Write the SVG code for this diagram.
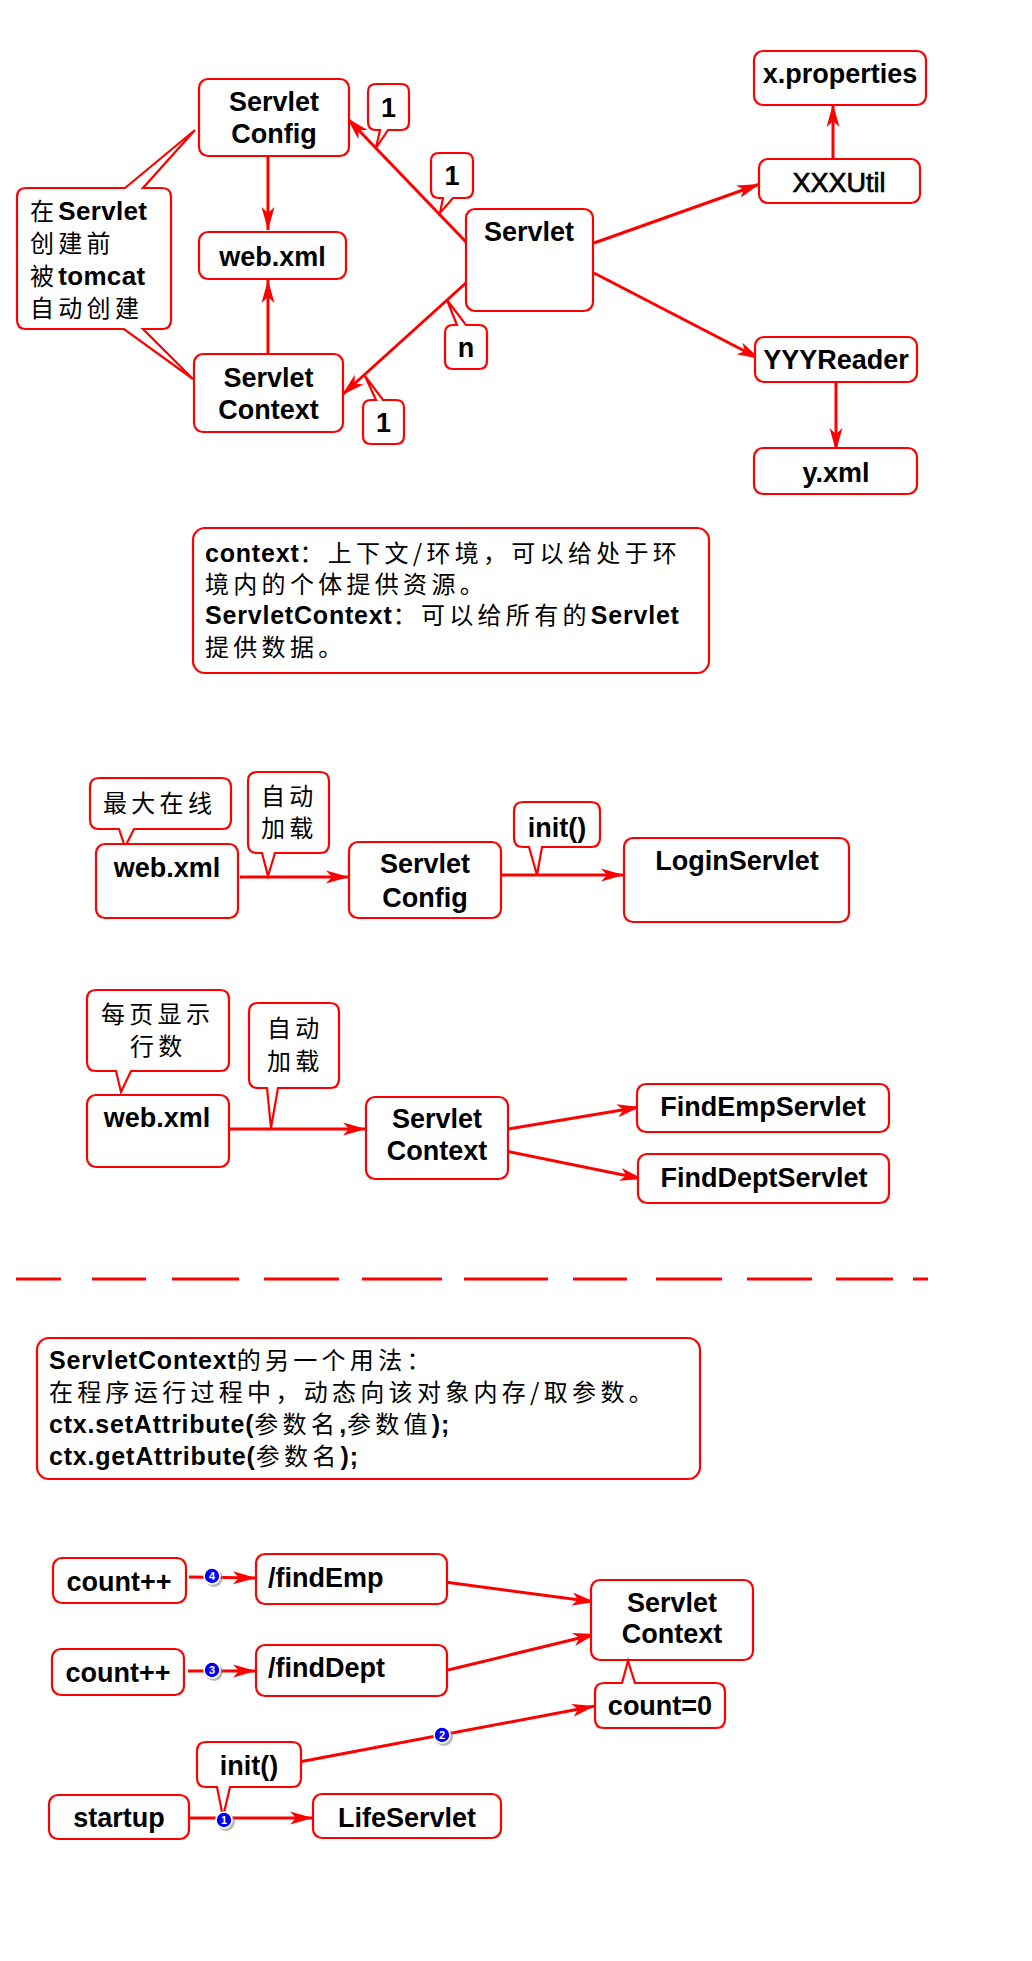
<svg xmlns="http://www.w3.org/2000/svg" width="1032" height="1961" viewBox="0 0 1032 1961">
<style>
.box{fill:#fff;stroke:#ff0000;stroke-width:2.2}
.con{fill:none;stroke:#ff0000;stroke-width:3}
.lbl{font-family:"Liberation Sans",Arial,"Noto Sans CJK SC",sans-serif;font-weight:bold;font-size:27px;fill:#000;text-anchor:middle}
.t{font-family:"Noto Sans CJK SC","Liberation Sans",sans-serif;font-size:24px;fill:#000;letter-spacing:4.3px}
.b{font-family:"Liberation Sans",Arial,sans-serif;font-weight:bold;font-size:25px;letter-spacing:0.8px}
.bl{font-family:"Liberation Sans",Arial,sans-serif;font-weight:bold;font-size:26px;letter-spacing:0.3px}
.mid{text-anchor:middle}
.badge{fill:#0000f0;stroke:#fff;stroke-width:1.6}
.shadow{fill:#888;opacity:0.6}
.bnum{font-family:"Liberation Sans",Arial,sans-serif;font-weight:bold;font-size:11px;fill:#fff;text-anchor:middle}
</style>
<defs>
<marker id="arr" markerUnits="userSpaceOnUse" orient="auto" refX="0" refY="0" markerWidth="30" markerHeight="20" overflow="visible">
<path d="M0,0 L-23,-6.5 L-17,0 L-23,6.5 Z" fill="#ff0000"/>
</marker>
</defs>
<rect width="1032" height="1961" fill="#fff"/>

<g id="connectors">
<path class="con" d="M268,154 L268,230" marker-end="url(#arr)"/>
<path class="con" d="M268,359 L268,280" marker-end="url(#arr)"/>
<path class="con" d="M467,243 L347,118" marker-end="url(#arr)"/>
<path class="con" d="M467,282 L342,395" marker-end="url(#arr)"/>
<path class="con" d="M594,243 L760,184" marker-end="url(#arr)"/>
<path class="con" d="M594,273 L760,359" marker-end="url(#arr)"/>
<path class="con" d="M833,159 L833,104" marker-end="url(#arr)"/>
<path class="con" d="M836,382 L836,451" marker-end="url(#arr)"/>
<path class="con" d="M240,877 L349,877" marker-end="url(#arr)"/>
<path class="con" d="M501,875 L624,875" marker-end="url(#arr)"/>
<path class="con" d="M226,1129 L366,1129" marker-end="url(#arr)"/>
<path class="con" d="M508,1129 L640,1107" marker-end="url(#arr)"/>
<path class="con" d="M506,1151 L643,1179" marker-end="url(#arr)"/>
<path class="con" d="M189,1577 L256,1578" marker-end="url(#arr)"/>
<path class="con" d="M188,1671 L256,1671" marker-end="url(#arr)"/>
<path class="con" d="M445,1582 L595,1602" marker-end="url(#arr)"/>
<path class="con" d="M448,1670 L596,1634" marker-end="url(#arr)"/>
<path class="con" d="M299,1762 L595,1706" marker-end="url(#arr)"/>
<path class="con" d="M189,1818 L313,1818" marker-end="url(#arr)"/>
</g>

<g id="divider">
<path d="M16,1279 H61 M92,1279 H146 M172,1279 H239 M264,1279 H339 M362,1279 H442 M464,1279 H548 M573,1279 H627 M656,1279 H722 M747,1279 H812 M836,1279 H893 M913,1279 H928" fill="none" stroke="#ff0000" stroke-width="3"/>
</g>

<!-- Section 1 -->
<g id="servletconfig1">
<rect class="box" x="199" y="79" width="150" height="77" rx="9"/>
<text class="lbl" x="274" y="111">Servlet</text>
<text class="lbl" x="274" y="143">Config</text>
</g>
<g id="webxml1">
<rect class="box" x="199" y="232" width="147" height="47" rx="9"/>
<text class="lbl" x="272.5" y="266">web.xml</text>
</g>
<g id="servletcontext1">
<rect class="box" x="194" y="354" width="149" height="78" rx="9"/>
<text class="lbl" x="268.5" y="387">Servlet</text>
<text class="lbl" x="268.5" y="419">Context</text>
</g>
<g id="servlet">
<rect class="box" x="466" y="209" width="127" height="102" rx="9"/>
<text class="lbl" x="529" y="241">Servlet</text>
</g>
<g id="xproperties">
<rect class="box" x="754" y="51" width="172" height="54" rx="9"/>
<text class="lbl" x="840" y="83">x.properties</text>
</g>
<g id="xxxutil">
<rect class="box" x="759" y="159" width="161" height="44" rx="9"/>
<text class="lbl" x="839" y="192" style="font-weight:normal;stroke:#000;stroke-width:0.7">XXXUtil</text>
</g>
<g id="yyyreader">
<rect class="box" x="755" y="337" width="162" height="45" rx="9"/>
<text class="lbl" x="836" y="369">YYYReader</text>
</g>
<g id="yxml">
<rect class="box" x="754" y="448" width="163" height="46" rx="9"/>
<text class="lbl" x="836" y="482">y.xml</text>
</g>
<g id="note-tomcat">
<path class="box" d="M26,188 H125 L195,130 L143,188 H162 Q171,188 171,197 V320 Q171,329 162,329 H143 L193,379 L124,329 H26 Q17,329 17,320 V197 Q17,188 26,188 Z"/>
<text class="t" x="30" y="220">在<tspan class="bl">Servlet</tspan></text>
<text class="t" x="30" y="252">创建前</text>
<text class="t" x="30" y="285">被<tspan class="bl">tomcat</tspan></text>
<text class="t" x="30" y="317">自动创建</text>
</g>
<g id="mult-config-1">
<path class="box" d="M376,84 H401 Q409,84 409,92 V122 Q409,130 401,130 H388 L376,148 L380,130 H376 Q368,130 368,122 V92 Q368,84 376,84 Z"/>
<text class="lbl" x="388.5" y="117">1</text>
</g>
<g id="mult-config-2">
<path class="box" d="M439,153 H465 Q473,153 473,161 V190 Q473,198 465,198 H453 L440,213 L443,198 H439 Q431,198 431,190 V161 Q431,153 439,153 Z"/>
<text class="lbl" x="452" y="185">1</text>
</g>
<g id="mult-context-n">
<path class="box" d="M453,325 H457 L447,300 L466,325 H479 Q487,325 487,333 V361 Q487,369 479,369 H453 Q445,369 445,361 V333 Q445,325 453,325 Z"/>
<text class="lbl" x="466" y="357">n</text>
</g>
<g id="mult-context-1">
<path class="box" d="M371,400 H376 L365,376 L383,400 H396 Q404,400 404,408 V436 Q404,444 396,444 H371 Q363,444 363,436 V408 Q363,400 371,400 Z"/>
<text class="lbl" x="383.5" y="432">1</text>
</g>
<g id="note-context">
<rect class="box" x="193" y="528" width="516" height="145" rx="12"/>
<text class="t" x="205" y="562"><tspan class="b">context</tspan>：上下文/环境，可以给处于环</text>
<text class="t" x="205" y="593">境内的个体提供资源。</text>
<text class="t" x="205" y="624"><tspan class="b">ServletContext</tspan>：可以给所有的<tspan class="b">Servlet</tspan></text>
<text class="t" x="205" y="656">提供数据。</text>
</g>

<!-- Section 2 -->
<g id="note-maxonline">
<path class="box" d="M99,778 H222 Q231,778 231,787 V820 Q231,829 222,829 H134 L125,847 L119,829 H99 Q90,829 90,820 V787 Q90,778 99,778 Z"/>
<text class="t" x="103" y="812">最大在线</text>
</g>
<g id="webxml2">
<rect class="box" x="96" y="844" width="142" height="74" rx="9"/>
<text class="lbl" x="167" y="877">web.xml</text>
</g>
<g id="note-autoload1">
<path class="box" d="M257,772 H320 Q329,772 329,781 V844 Q329,853 320,853 H275 L268,876 L262,853 H257 Q248,853 248,844 V781 Q248,772 257,772 Z"/>
<text class="t" x="261" y="805">自动</text>
<text class="t" x="261" y="837">加载</text>
</g>
<g id="servletconfig2">
<rect class="box" x="349" y="842" width="152" height="76" rx="9"/>
<text class="lbl" x="425" y="873">Servlet</text>
<text class="lbl" x="425" y="907">Config</text>
</g>
<g id="note-init1">
<path class="box" d="M523,802 H591 Q600,802 600,811 V838 Q600,847 591,847 H542 L537,875 L529,847 H523 Q514,847 514,838 V811 Q514,802 523,802 Z"/>
<text class="lbl" x="557" y="837">init()</text>
</g>
<g id="loginservlet">
<rect class="box" x="624" y="838" width="225" height="84" rx="9"/>
<text class="lbl" x="737" y="870">LoginServlet</text>
</g>

<!-- Section 3 -->
<g id="note-rows">
<path class="box" d="M96,990 H220 Q229,990 229,999 V1062 Q229,1071 220,1071 H131 L121,1092 L116,1071 H96 Q87,1071 87,1062 V999 Q87,990 96,990 Z"/>
<text class="t" x="101" y="1023">每页显示</text>
<text class="t" x="130" y="1055">行数</text>
</g>
<g id="webxml3">
<rect class="box" x="87" y="1095" width="142" height="72" rx="9"/>
<text class="lbl" x="157" y="1127">web.xml</text>
</g>
<g id="note-autoload2">
<path class="box" d="M258,1003 H330 Q339,1003 339,1012 V1079 Q339,1088 330,1088 H278 L271,1128 L267,1088 H258 Q249,1088 249,1079 V1012 Q249,1003 258,1003 Z"/>
<text class="t" x="267" y="1037">自动</text>
<text class="t" x="267" y="1070">加载</text>
</g>
<g id="servletcontext3">
<rect class="box" x="366" y="1097" width="142" height="82" rx="9"/>
<text class="lbl" x="437" y="1128">Servlet</text>
<text class="lbl" x="437" y="1160">Context</text>
</g>
<g id="findempservlet">
<rect class="box" x="637" y="1084" width="252" height="48" rx="9"/>
<text class="lbl" x="763" y="1116">FindEmpServlet</text>
</g>
<g id="finddeptservlet">
<rect class="box" x="638" y="1154" width="251" height="49" rx="9"/>
<text class="lbl" x="764" y="1187">FindDeptServlet</text>
</g>

<!-- Section 4 -->
<g id="note-usage">
<rect class="box" x="37" y="1338" width="663" height="141" rx="12"/>
<text class="t" x="49" y="1369"><tspan class="b">ServletContext</tspan>的另一个用法：</text>
<text class="t" x="49" y="1401">在程序运行过程中，动态向该对象内存/取参数。</text>
<text class="t" x="49" y="1433"><tspan class="b">ctx.setAttribute(</tspan>参数名<tspan class="b">,</tspan>参数值<tspan class="b">);</tspan></text>
<text class="t" x="49" y="1465"><tspan class="b">ctx.getAttribute(</tspan>参数名<tspan class="b">);</tspan></text>
</g>
<g id="countpp1">
<rect class="box" x="53" y="1558" width="133" height="45" rx="9"/>
<text class="lbl" x="119" y="1591">count++</text>
</g>
<g id="findemp">
<rect class="box" x="256" y="1554" width="191" height="50" rx="9"/>
<text class="lbl" x="268" y="1587" style="text-anchor:start">/findEmp</text>
</g>
<g id="countpp2">
<rect class="box" x="52" y="1649" width="132" height="46" rx="9"/>
<text class="lbl" x="118" y="1682">count++</text>
</g>
<g id="finddept">
<rect class="box" x="256" y="1645" width="191" height="51" rx="9"/>
<text class="lbl" x="268" y="1677" style="text-anchor:start">/findDept</text>
</g>
<g id="servletcontext4">
<rect class="box" x="591" y="1580" width="162" height="80" rx="9"/>
<text class="lbl" x="672" y="1612">Servlet</text>
<text class="lbl" x="672" y="1643">Context</text>
</g>
<g id="note-count0">
<path class="box" d="M604,1683 H622 L628,1661 L635,1683 H716 Q725,1683 725,1692 V1719 Q725,1728 716,1728 H604 Q595,1728 595,1719 V1692 Q595,1683 604,1683 Z"/>
<text class="lbl" x="660" y="1715">count=0</text>
</g>
<g id="note-init2">
<path class="box" d="M206,1742 H292 Q301,1742 301,1751 V1778 Q301,1787 292,1787 H230 L223,1817 L217,1787 H206 Q197,1787 197,1778 V1751 Q197,1742 206,1742 Z"/>
<text class="lbl" x="249" y="1775">init()</text>
</g>
<g id="startup">
<rect class="box" x="49" y="1795" width="140" height="44" rx="9"/>
<text class="lbl" x="119" y="1827">startup</text>
</g>
<g id="lifeservlet">
<rect class="box" x="313" y="1794" width="188" height="44" rx="9"/>
<text class="lbl" x="407" y="1827">LifeServlet</text>
</g>

<g id="badges">
<circle class="shadow" cx="214" cy="1578" r="9"/>
<circle class="badge" cx="212" cy="1576" r="8"/>
<text class="bnum" x="212" y="1580">4</text>
<circle class="shadow" cx="214" cy="1672" r="9"/>
<circle class="badge" cx="212" cy="1670" r="8"/>
<text class="bnum" x="212" y="1674">3</text>
<circle class="shadow" cx="444" cy="1737" r="9"/>
<circle class="badge" cx="442" cy="1735" r="8"/>
<text class="bnum" x="442" y="1739">2</text>
<circle class="shadow" cx="226" cy="1822" r="9"/>
<circle class="badge" cx="224" cy="1820" r="8"/>
<text class="bnum" x="224" y="1824">1</text>
</g>
</svg>
